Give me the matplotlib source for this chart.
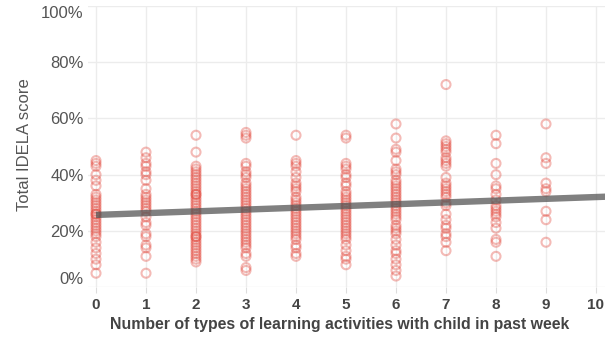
import numpy as np
import matplotlib
matplotlib.use("Agg")
import matplotlib.pyplot as plt

plt.rcParams['font.family'] = ['Liberation Sans', 'DejaVu Sans']

# IDELA score (%) for each count of learning activity types
scores = {
    0: [45, 44, 43, 40, 38, 36, 33, 32, 31, 30, 29, 28, 27, 26, 26, 25, 24, 23, 22, 21, 20, 19, 18, 16, 14, 12, 10, 8, 5],
    1: [48, 46, 44, 43, 41, 40, 38, 35, 33, 32, 31, 30, 29, 28, 27, 25, 23, 22, 19, 18, 15, 14, 11, 5],
    2: [54, 48, 43, 42, 41, 40, 39, 38, 37, 36, 35, 34, 33, 33, 32, 31, 30, 29, 28, 27, 26, 25, 24, 23, 22, 21,
        20, 19, 18, 18, 17, 16, 15, 14, 13, 12, 11, 10, 9],
    3: [55, 54, 53, 44, 43, 41, 40, 39, 37, 36, 35, 34, 33, 32, 31, 30, 29, 28, 27, 26, 25, 24, 23, 22, 21, 20,
        19, 18, 17, 16, 15, 14, 12, 11, 7, 6],
    4: [54, 45, 44, 43, 41, 39, 37, 36, 35, 34, 32, 31, 30, 29, 28, 27, 26, 25, 24, 23, 22, 21, 20, 19, 18, 17,
        15, 14, 12, 11],
    5: [54, 53, 44, 43, 42, 40, 39, 37, 36, 34, 33, 32, 31, 30, 29, 28, 27, 26, 25, 24, 23, 22, 21, 20, 19, 18,
        17, 15, 13, 11, 10, 8],
    6: [58, 53, 49, 48, 45, 42, 41, 40, 38, 37, 36, 35, 34, 33, 32, 31, 30, 29, 28, 27, 26, 25, 24, 22, 21, 20,
        19, 17, 15, 13, 12, 10, 8, 6, 4],
    7: [72, 52, 51, 50, 49, 48, 46, 45, 44, 43, 39, 37, 36, 35, 34, 33, 32, 30, 29, 26, 24, 22, 21, 19, 18, 16, 13],
    8: [54, 51, 44, 40, 36, 35, 33, 31, 29, 28, 27, 26, 25, 23, 21, 17, 16, 11],
    9: [58, 46, 44, 37, 35, 34, 27, 24, 16],
}

# linear trend: value at x=0 and slope per activity type
trend_intercept = 25.7
trend_slope = 0.635

x_ticks = list(range(0, 11))
y_ticks = [0, 20, 40, 60, 80, 100]
y_labels = ['0%', '20%', '40%', '60%', '80%', '100%']

PX_PER_UNIT = 50.0
fig = plt.figure(figsize=(6.05, 3.45), dpi=100)
ax = fig.add_axes([88 / 605, 1 - 287.3 / 345, 517 / 605, 281.6 / 345])

xs = np.concatenate([[k] * len(v) for k, v in scores.items()])
ys = np.concatenate([v for v in scores.values()])
ax.scatter(xs, ys, s=42, facecolors='none', edgecolors='#de2a1c', linewidths=1.5, alpha=0.32, zorder=3)

line_x = np.array([0, 10.5])
ax.plot(line_x, trend_intercept + trend_slope * line_x, color='#555555', alpha=0.75,
        linewidth=4.6, solid_capstyle='butt', zorder=4)

ax.set_xlim(-8 / PX_PER_UNIT, 509 / PX_PER_UNIT)
ax.set_ylim(0, 100)
for s in ax.spines.values():
    s.set_visible(False)

ax.set_xticks(x_ticks)
ax.set_yticks(y_ticks)
ax.set_yticklabels(y_labels)
ax.grid(True, color='#ececec', linewidth=1.0, zorder=0)
ax.set_axisbelow(True)

ax.tick_params(axis='x', length=4, color='#dddddd', pad=4, labelsize=11, labelcolor='#444444')
for lbl in ax.get_xticklabels():
    lbl.set_fontweight('bold')
ax.tick_params(axis='y', length=0, pad=3, labelsize=12, labelcolor='#555555')
ylbls = ax.get_yticklabels()
ylbls[0].set_va('bottom')
ylbls[-1].set_va('top')

fig.text(25 / 605, 1 - 145 / 345, 'Total IDELA score', rotation=90, ha='center', va='center',
         fontsize=12, color='#555555')
fig.text(340 / 605, 1 - 325 / 345, 'Number of types of learning activities with child in past week',
         ha='center', va='center', fontsize=11.4, fontweight='bold', color='#444444')

fig.savefig('out.png', dpi=100)
